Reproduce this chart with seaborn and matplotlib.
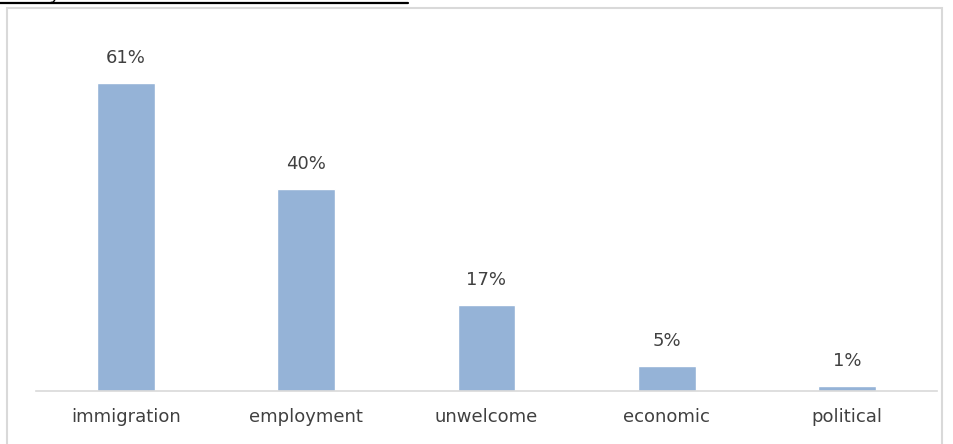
import pandas as pd
import matplotlib.pyplot as plt
import seaborn as sns
from matplotlib.lines import Line2D
from matplotlib.patches import Rectangle


categories = ['immigration', 'employment', 'unwelcome', 'economic', 'political']
shares = [61, 40, 17, 5, 1]
bar_labels = ['61%', '40%', '17%', '5%', '1%']

bar_color = '#95b3d7'
text_color = '#404040'
frame_color = '#d9d9d9'


def plot_bars(ax):
    data = pd.DataFrame({'reason': categories, 'share': shares})
    sns.barplot(data=data, x='reason', y='share', color=bar_color,
                saturation=1, width=0.32, ax=ax)

    for patch, label in zip(ax.patches, bar_labels):
        ax.annotate(label, (patch.get_x() + patch.get_width() / 2, patch.get_height()),
                    xytext=(0, 18), textcoords='offset points', ha='center', va='center',
                    fontsize=13, color=text_color)

    ax.set_xlim(-0.5, len(categories) - 0.5)
    ax.set_ylim(0, 70)
    ax.set_xlabel('')
    ax.set_ylabel('')
    ax.set_yticks([])
    ax.tick_params(axis='x', length=0, pad=12, labelsize=13, labelcolor=text_color)
    for side in ['top', 'right', 'left']:
        ax.spines[side].set_visible(False)
    ax.spines['bottom'].set_color(frame_color)
    ax.spines['bottom'].set_linewidth(1.2)


if __name__ == '__main__':
    sns.set_style('white')
    plt.rcParams['font.family'] = ['DejaVu Sans']

    fig = plt.figure(figsize=(9.54, 4.44), dpi=100)
    ax = fig.add_axes([36 / 954, 1 - 391 / 444, 901 / 954, (391 - 37.5) / 444])
    plot_bars(ax)

    # chart frame, cut off at the bottom of the picture
    fig.patches.append(Rectangle((7 / 954, -0.05), 935 / 954, 1.05 - 8.5 / 444,
                                 transform=fig.transFigure, fill=False,
                                 edgecolor=frame_color, linewidth=1.5))
    # heading rule above the frame, title text mostly out of view
    fig.lines.append(Line2D([0, 408 / 954], [1 - 3.5 / 444, 1 - 3.5 / 444],
                            transform=fig.transFigure, color='black', linewidth=1.6))
    fig.text(50 / 954, 1 + 1 / 444, 'y', fontsize=13, style='italic',
             color='black', va='baseline')

    fig.savefig('out.png', dpi=100)
